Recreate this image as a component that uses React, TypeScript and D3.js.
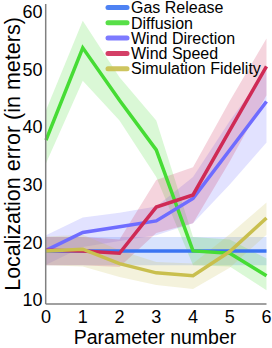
import React from "react";
import * as d3 from "d3";

const xs = [0, 1, 2, 3, 4, 5, 6];
const seriesNames = ["Gas Release", "Diffusion", "Wind Direction", "Wind Speed", "Simulation Fidelity"];
const seriesColors = ["#3b74f2", "#46dc34", "#6f6cff", "#cf2a55", "#c9bf4e"];

const gasMean = [18.5, 18.5, 18.5, 18.5, 18.5, 18.5, 18.5];
const gasLow = [16.0, 16.0, 16.0, 16.0, 16.0, 16.0, 16.0];
const gasHigh = [20.9, 20.9, 20.9, 20.9, 20.9, 20.9, 20.9];

const diffMean = [37.7, 53.7, 44.6, 36.0, 18.5, 18.1, 14.2];
const diffLow = [33.7, 48.0, 41.1, 31.3, 16.0, 15.8, 11.7];
const diffHigh = [42.9, 58.4, 48.6, 41.1, 20.9, 20.5, 17.2];

const wdMean = [18.6, 21.7, 22.7, 23.7, 27.6, 36.0, 44.4];
const wdLow = [16.1, 19.2, 20.2, 21.2, 23.3, 30.0, 37.3];
const wdHigh = [21.2, 24.3, 25.1, 26.2, 31.3, 41.0, 49.8];

const wsMean = [18.6, 18.5, 18.1, 26.1, 28.2, 39.4, 50.5];
const wsLow = [16.0, 16.0, 15.7, 21.6, 23.3, 34.0, 45.5];
const wsHigh = [20.9, 20.9, 20.5, 30.8, 33.0, 44.5, 55.3];

const sfMean = [18.5, 18.8, 16.3, 14.7, 14.2, 18.4, 24.2];
const sfLow = [16.0, 15.8, 14.0, 12.6, 11.9, 15.6, 21.3];
const sfHigh = [21.0, 21.3, 18.6, 16.6, 16.3, 21.4, 26.9];

const yTicks = [10, 20, 30, 40, 50, 60];
const xTicks = [0, 1, 2, 3, 4, 5, 6];

const means = [gasMean, diffMean, wdMean, wsMean, sfMean];
const lows = [gasLow, diffLow, wdLow, wsLow, sfLow];
const highs = [gasHigh, diffHigh, wdHigh, wsHigh, sfHigh];

const FONT = "'Liberation Sans', Arial, Helvetica, sans-serif";

export default function App() {
  const W = 272, H = 348;
  const x = d3.scaleLinear().domain([0, 6]).range([46, 266.5]);
  const y = d3.scaleLinear().domain([9.3, 61.3]).range([304, 4]);

  const line = (vals: number[]) =>
    d3.line<number>().x((_, i) => x(xs[i])).y((v) => y(v))(vals) || "";
  const area = (lo: number[], hi: number[]) =>
    d3
      .area<number>()
      .x((_, i) => x(xs[i]))
      .y0((_, i) => y(lo[i]))
      .y1((_, i) => y(hi[i]))(lo) || "";

  return (
    <svg width={W} height={H} style={{ position: "absolute", left: 0, top: 0 }}>
      <rect width={W} height={H} fill="#fff" />
      {means.map((_, i) => (
        <path key={"a" + i} d={area(lows[i], highs[i])} fill={seriesColors[i]} fillOpacity={0.2} stroke="none" />
      ))}
      {means.map((m, i) => (
        <path key={"l" + i} d={line(m)} fill="none" stroke={seriesColors[i]} strokeWidth={3.5} strokeLinejoin="miter" />
      ))}
      <line x1={45.7} x2={45.7} y1={4} y2={304} stroke="#808080" strokeWidth={1.5} />
      <line x1={45.7} x2={266.5} y1={304} y2={304} stroke="#808080" strokeWidth={1.5} />
      {yTicks.map((t) => (
        <text key={"yt" + t} x={42.5} y={y(t)} dy="0.36em" textAnchor="end" fontFamily={FONT} fontSize={18} fill="#000">
          {t}
        </text>
      ))}
      {xTicks.map((t) => (
        <text key={"xt" + t} x={x(t)} y={322.5} textAnchor="middle" fontFamily={FONT} fontSize={18} fill="#000">
          {t}
        </text>
      ))}
      <text x={155} y={343.5} textAnchor="middle" fontFamily={FONT} fontSize={19.5} fill="#000">
        Parameter number
      </text>
      <text transform={`translate(19.5,${(4 + 304) / 2}) rotate(-90)`} textAnchor="middle" fontFamily={FONT} fontSize={21.5} fill="#000">
        Localization error (in meters)
      </text>
      {seriesNames.map((n, i) => {
        const cy = 7.5 + i * 15.3;
        return (
          <g key={"lg" + i}>
            <line x1={108} x2={127} y1={cy} y2={cy} stroke={seriesColors[i]} strokeWidth={5} strokeLinecap="round" strokeOpacity={0.9} />
            <text x={131} y={cy} dy="0.36em" fontFamily={FONT} fontSize={16} fill="#000">
              {n}
            </text>
          </g>
        );
      })}
    </svg>
  );
}
